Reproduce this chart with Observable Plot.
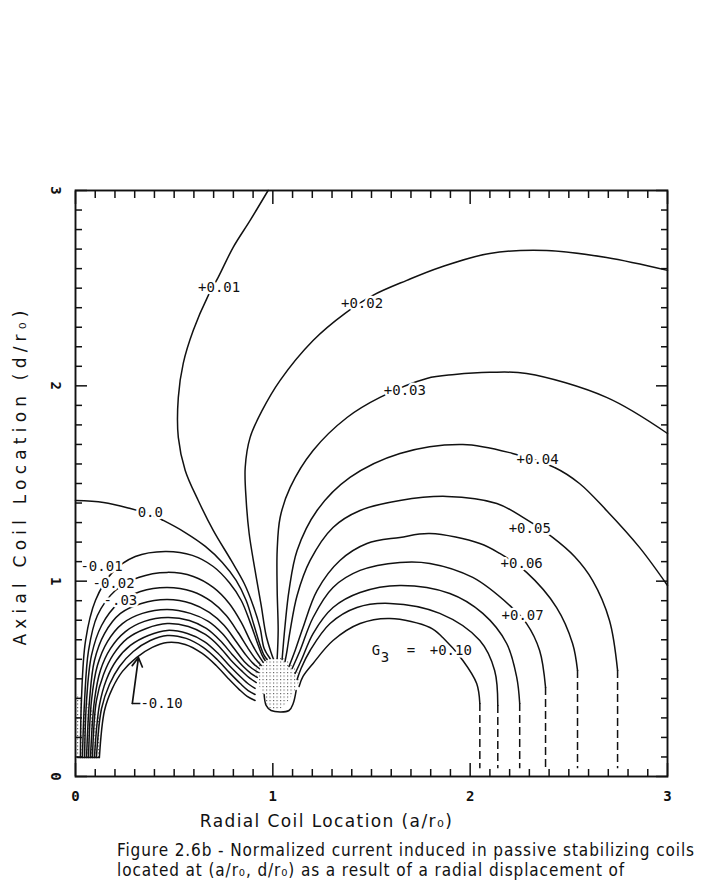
<!DOCTYPE html>
<html><head><meta charset="utf-8">
<script src="https://cdn.jsdelivr.net/npm/d3@7"></script>
<script src="https://cdn.jsdelivr.net/npm/@observablehq/plot@0.6"></script>
<style>
html,body{margin:0;padding:0;background:#fff;}
body{width:707px;height:881px;overflow:hidden;position:relative;}
#page{position:absolute;top:0px;left:349px;font:bold 10px/12px "DejaVu Sans Mono",monospace;color:#444;}
#chart{position:absolute;top:0;left:0;}
#caption{position:absolute;left:117px;top:840px;white-space:nowrap;font:17px/20px "DejaVu Sans Condensed","DejaVu Sans",sans-serif;letter-spacing:0.9px;color:#111;}
</style></head><body>
<svg width="0" height="0" style="position:absolute"><defs>
<pattern id="stip" width="3.5" height="3.5" patternUnits="userSpaceOnUse"><rect x="0" y="0" width="1.1" height="1.1" fill="#555"/></pattern>
</defs></svg>
<div id="page">-18-</div>
<div id="chart"></div>
<div id="caption">Figure 2.6b - Normalized current induced in passive stabilizing coils<br>located at (a/r₀, d/r₀) as a result of a radial displacement of</div>
<script>
// ---- tick values ----
const majorTicks = [0, 1, 2, 3];
const minorTicks = d3.range(0, 31).map(i => i / 10).filter(v => !Number.isInteger(v));

// ---- titles ----
const xTitle = "Radial Coil Location (a/r₀)";
const yTitle = "Axial Coil Location (d/r₀)";

// ---- contour lines (x = a/r0, y = d/r0) ----
const neg01 = [[0.025,0.097],[0.030,0.389],[0.051,0.696],[0.101,0.901],[0.187,1.045],[0.303,1.126],[0.455,1.152],[0.592,1.132],[0.698,1.075],[0.779,0.993],[0.840,0.901],[0.885,0.789],[0.921,0.686],[0.946,0.620],[0.961,0.594]];
const neg02 = [[0.035,0.097],[0.046,0.389],[0.066,0.645],[0.111,0.824],[0.202,0.952],[0.319,1.019],[0.465,1.045],[0.597,1.024],[0.698,0.968],[0.779,0.886],[0.840,0.789],[0.885,0.696],[0.921,0.630],[0.951,0.584]];
const neg03 = [[0.046,0.097],[0.056,0.389],[0.081,0.620],[0.132,0.773],[0.217,0.886],[0.329,0.947],[0.465,0.968],[0.592,0.947],[0.688,0.896],[0.764,0.824],[0.824,0.737],[0.875,0.655],[0.910,0.604],[0.941,0.568]];
const neg04 = [[0.056,0.097],[0.071,0.389],[0.096,0.594],[0.147,0.732],[0.228,0.835],[0.334,0.886],[0.465,0.906],[0.587,0.886],[0.678,0.840],[0.754,0.773],[0.814,0.691],[0.865,0.620],[0.900,0.579],[0.931,0.553]];
const neg05 = [[0.066,0.097],[0.081,0.389],[0.111,0.568],[0.162,0.691],[0.238,0.783],[0.339,0.835],[0.465,0.855],[0.582,0.835],[0.673,0.794],[0.744,0.732],[0.804,0.655],[0.855,0.589],[0.895,0.553],[0.926,0.533]];
const neg06 = [[0.076,0.097],[0.096,0.389],[0.126,0.543],[0.177,0.655],[0.253,0.742],[0.349,0.794],[0.465,0.814],[0.577,0.799],[0.663,0.758],[0.733,0.696],[0.794,0.625],[0.850,0.563],[0.890,0.527],[0.921,0.507]];
const neg07 = [[0.086,0.097],[0.106,0.389],[0.142,0.522],[0.192,0.625],[0.263,0.707],[0.359,0.758],[0.465,0.783],[0.572,0.768],[0.658,0.727],[0.728,0.666],[0.789,0.594],[0.845,0.538],[0.885,0.502],[0.916,0.481]];
const neg08 = [[0.096,0.097],[0.121,0.364],[0.157,0.497],[0.207,0.594],[0.278,0.671],[0.369,0.722],[0.465,0.748],[0.567,0.732],[0.653,0.691],[0.723,0.630],[0.784,0.563],[0.840,0.507],[0.880,0.471],[0.910,0.451]];
const neg09 = [[0.106,0.097],[0.132,0.348],[0.172,0.471],[0.223,0.563],[0.293,0.640],[0.379,0.696],[0.465,0.722],[0.561,0.707],[0.647,0.661],[0.718,0.599],[0.779,0.533],[0.835,0.476],[0.875,0.440],[0.910,0.420]];
const neg10 = [[0.121,0.097],[0.147,0.338],[0.187,0.451],[0.238,0.538],[0.309,0.609],[0.389,0.661],[0.465,0.686],[0.556,0.676],[0.642,0.630],[0.713,0.568],[0.774,0.502],[0.830,0.445],[0.870,0.410],[0.910,0.389]];
const zero  = [[0.000,1.413],[0.142,1.403],[0.278,1.372],[0.379,1.342],[0.445,1.311],[0.556,1.249],[0.658,1.178],[0.744,1.096],[0.814,1.004],[0.865,0.901],[0.905,0.773],[0.936,0.671],[0.956,0.620],[0.971,0.599]];
const pos01 = [[0.976,3.000],[0.885,2.847],[0.799,2.709],[0.723,2.555],[0.673,2.463],[0.597,2.284],[0.546,2.115],[0.521,1.941],[0.521,1.736],[0.556,1.567],[0.622,1.413],[0.698,1.260],[0.789,1.106],[0.855,0.988],[0.900,0.876],[0.936,0.758],[0.956,0.655],[0.986,0.604]];
const pos02 = [[3.000,2.591],[2.691,2.657],[2.387,2.693],[2.099,2.678],[1.846,2.606],[1.679,2.540],[1.507,2.463],[1.366,2.371],[1.204,2.232],[1.037,2.028],[0.946,1.874],[0.885,1.736],[0.860,1.582],[0.865,1.413],[0.880,1.244],[0.910,1.055],[0.941,0.876],[0.966,0.722],[0.991,0.635],[1.002,0.604]];
const pos03 = [[3.000,1.756],[2.691,1.941],[2.286,2.063],[2.099,2.069],[1.922,2.058],[1.780,2.038],[1.543,1.941],[1.376,1.838],[1.204,1.669],[1.088,1.480],[1.037,1.326],[1.022,1.157],[1.022,0.952],[1.027,0.748],[1.022,0.604]];
const pos04 = [[3.000,0.978],[2.858,1.173],[2.691,1.362],[2.554,1.500],[2.428,1.582],[2.215,1.654],[1.963,1.700],[1.644,1.654],[1.391,1.531],[1.224,1.362],[1.123,1.157],[1.082,0.952],[1.062,0.773],[1.047,0.599]];
const pos05 = [[2.747,0.543],[2.706,0.799],[2.620,1.004],[2.529,1.126],[2.418,1.224],[2.276,1.321],[2.135,1.398],[1.882,1.434],[1.644,1.413],[1.442,1.362],[1.305,1.275],[1.189,1.106],[1.123,0.927],[1.088,0.748],[1.072,0.645],[1.062,0.589]];
const pos06 = [[2.544,0.543],[2.519,0.681],[2.438,0.865],[2.286,1.045],[2.150,1.142],[2.049,1.193],[1.796,1.244],[1.644,1.224],[1.477,1.193],[1.340,1.106],[1.224,0.952],[1.153,0.763],[1.113,0.645],[1.082,0.563]];
const pos07 = [[2.382,0.456],[2.352,0.645],[2.286,0.783],[2.200,0.876],[2.013,1.019],[1.796,1.091],[1.644,1.096],[1.442,1.055],[1.305,0.968],[1.204,0.814],[1.138,0.645],[1.098,0.553]];
const pos08 = [[2.251,0.374],[2.236,0.507],[2.185,0.681],[2.064,0.835],[1.897,0.937],[1.644,0.978],[1.442,0.942],[1.305,0.865],[1.204,0.732],[1.148,0.604],[1.113,0.527]];
const pos09 = [[2.140,0.364],[2.124,0.543],[2.049,0.696],[1.846,0.835],[1.593,0.886],[1.426,0.865],[1.290,0.783],[1.189,0.645],[1.143,0.553],[1.123,0.497]];
const pos10 = [[2.049,0.374],[2.033,0.476],[1.963,0.594],[1.861,0.712],[1.796,0.763],[1.593,0.809],[1.442,0.783],[1.305,0.696],[1.204,0.579],[1.153,0.512],[1.133,0.461]];
const cuspBottom = [[0.956,0.420],[0.966,0.364],[0.991,0.338],[1.082,0.338],[1.103,0.374],[1.118,0.440]];
const footBottom = [[0.010,0.097],[0.121,0.097]];

// stippled (dense) regions where the plotted lines merge
const cuspShadeX    = [0.915, 0.950, 0.990, 1.040, 1.090, 1.135];
const cuspShadeLow  = [0.520, 0.420, 0.345, 0.345, 0.400, 0.480];
const cuspShadeHigh = [0.560, 0.600, 0.610, 0.610, 0.580, 0.520];
const footShadeX    = [0.010, 0.050, 0.090, 0.125];
const footShadeLow  = [0.097, 0.097, 0.097, 0.097];
const footShadeHigh = [0.420, 0.390, 0.340, 0.300];

// dashed continuations down to the axis (levels 0.10 ... 0.05)
const dashX   = [2.049, 2.140, 2.251, 2.382, 2.544, 2.747];
const dashTop = [0.374, 0.364, 0.374, 0.456, 0.543, 0.543];
const dashBottom = 0.04;

// contour labels centred on the line
const midText = ["+0.01","+0.02","+0.03","+0.04","+0.05","+0.06","+0.07","0.0","G","3","=","+0.10"];
const midX    = [0.728, 1.452, 1.669, 2.342, 2.302, 2.261, 2.266, 0.379, 1.523, 1.568, 1.700, 1.902];
const midY    = [2.504, 2.422, 1.976, 1.623, 1.270, 1.091, 0.824, 1.352, 0.645, 0.609, 0.645, 0.645];
// contour labels that start at their point (left arch)
const startText = ["-0.01","-0.02","-.03","-0.10"];
const startX    = [0.025, 0.086, 0.142, 0.329];
const startY    = [1.075, 0.988, 0.901, 0.374];

// leader + arrow for the -0.10 label
const leader = [[0.329,0.374],[0.288,0.374]];
const arrowFrom = [0.288, 0.374];
const arrowTo   = [0.319, 0.609];

// ---- build tables ----
const contourSets = [
  ["-0.01",neg01],["-0.02",neg02],["-0.03",neg03],["-0.04",neg04],["-0.05",neg05],
  ["-0.06",neg06],["-0.07",neg07],["-0.08",neg08],["-0.09",neg09],["-0.10",neg10],
  ["0.0",zero],["+0.01",pos01],["+0.02",pos02],["+0.03",pos03],["+0.04",pos04],
  ["+0.05",pos05],["+0.06",pos06],["+0.07",pos07],["+0.08",pos08],["+0.09",pos09],["+0.10",pos10],
  ["cusp",cuspBottom],["foot",footBottom],["leader",leader]
];
const rows = contourSets.flatMap(([level, pts]) => pts.map(([x, y]) => ({level, x, y})));
const dashes = dashX.map((x, i) => ({x, y1: dashTop[i], y2: dashBottom}));
const midLabels = midText.map((t, i) => ({t, x: midX[i], y: midY[i]}));
const startLabels = startText.map((t, i) => ({t, x: startX[i], y: startY[i]}));
const cuspShade = cuspShadeX.map((x, i) => ({x, lo: cuspShadeLow[i], hi: cuspShadeHigh[i]}));
const footShade = footShadeX.map((x, i) => ({x, lo: footShadeLow[i], hi: footShadeHigh[i]}));

const ink = "#111";
const mono = "DejaVu Sans Mono";
const noText = () => "";
const labelStyle = {x: "x", y: "y", text: "t", fontSize: 14, fontFamily: mono, fill: ink, stroke: "white", strokeWidth: 5, paintOrder: "stroke"};

const chart = Plot.plot({
  width: 707, height: 840,
  marginLeft: 75, marginRight: 40, marginTop: 190, marginBottom: 64,
  x: {domain: [0, 3]},
  y: {domain: [0, 3]},
  style: {background: "white", color: ink},
  marks: [
    Plot.areaY(cuspShade, {x: "x", y1: "lo", y2: "hi", curve: "catmull-rom", fill: "url(#stip)"}),
    Plot.areaY(footShade, {x: "x", y1: "lo", y2: "hi", curve: "catmull-rom", fill: "url(#stip)"}),
    Plot.frame({stroke: ink, strokeWidth: 1.9}),
    Plot.axisX(minorTicks, {anchor: "bottom", tickSize: -7, tickFormat: noText, label: null, strokeWidth: 1.5}),
    Plot.axisX(majorTicks, {anchor: "bottom", tickSize: -13, tickFormat: noText, label: null, strokeWidth: 1.5}),
    Plot.axisX(minorTicks, {anchor: "top", tickSize: -7, tickFormat: noText, label: null, strokeWidth: 1.5}),
    Plot.axisX(majorTicks, {anchor: "top", tickSize: -13, tickFormat: noText, label: null, strokeWidth: 1.5}),
    Plot.axisY(minorTicks, {anchor: "left", tickSize: -7, tickFormat: noText, label: null, strokeWidth: 1.5}),
    Plot.axisY(majorTicks, {anchor: "left", tickSize: -12, tickFormat: noText, label: null, strokeWidth: 1.5}),
    Plot.axisY(minorTicks, {anchor: "right", tickSize: -7, tickFormat: noText, label: null, strokeWidth: 1.5}),
    Plot.axisY(majorTicks, {anchor: "right", tickSize: -12, tickFormat: noText, label: null, strokeWidth: 1.5}),
    Plot.axisX(majorTicks, {anchor: "bottom", tickSize: 0, tickPadding: 15, tickFormat: "d", label: null, fontSize: 14, fontFamily: mono, fontWeight: "bold"}),
    Plot.axisY(majorTicks, {anchor: "left", tickSize: 0, tickPadding: 15, tickRotate: 90, tickFormat: "d", label: null, fontSize: 14, fontFamily: mono, fontWeight: "bold"}),
    Plot.line(rows, {x: "x", y: "y", z: "level", curve: "catmull-rom", stroke: ink, strokeWidth: 1.5}),
    Plot.ruleX(dashes, {x: "x", y1: "y1", y2: "y2", stroke: ink, strokeWidth: 1.5, strokeDasharray: "8,4"}),
    Plot.arrow([0], {x1: () => arrowFrom[0], y1: () => arrowFrom[1], x2: () => arrowTo[0], y2: () => arrowTo[1], stroke: ink, strokeWidth: 1.7, headLength: 9}),
    Plot.text(midLabels, {...labelStyle, textAnchor: "middle"}),
    Plot.text(startLabels, {...labelStyle, textAnchor: "start"}),
    Plot.text([xTitle], {text: d => d, frameAnchor: "bottom", textAnchor: "middle", dx: -45, dy: 50, fontSize: 17, fontFamily: "DejaVu Sans", fill: ink}),
    Plot.text([yTitle], {text: d => d, frameAnchor: "left", textAnchor: "middle", rotate: -90, dx: -55, dy: -8, fontSize: 17, fontFamily: "DejaVu Sans", fill: ink})
  ]
});
for (const t of chart.querySelectorAll("text")) {
  if (t.textContent === yTitle) t.setAttribute("letter-spacing", "5.2");
  if (t.textContent === xTitle) t.setAttribute("letter-spacing", "1.4");
}
document.getElementById("chart").appendChild(chart);
</script>
</body></html>
